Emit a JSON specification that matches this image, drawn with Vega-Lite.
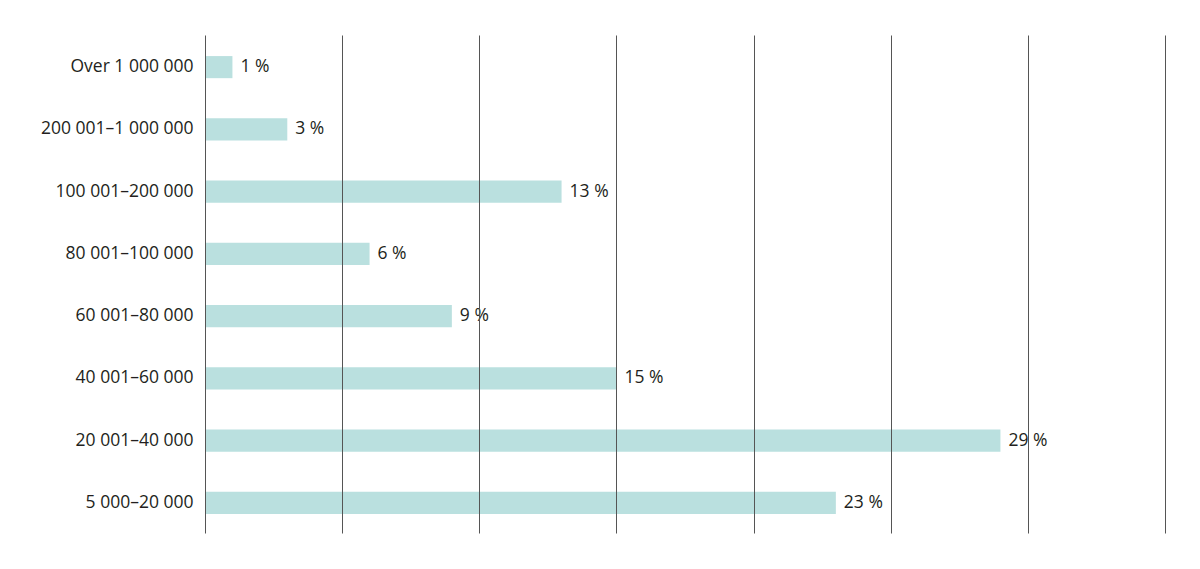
{
  "$schema": "https://vega.github.io/schema/vega-lite/v6.json",
  "width": 960,
  "height": 498,
  "autosize": "none",
  "padding": {"left": 205, "top": 35, "right": 35, "bottom": 36},
  "background": "white",
  "config": {
    "view": {"stroke": null},
    "font": "Open Sans"
  },
  "data": {
    "values": [
      {"group": "Over 1 000 000", "share": 1, "label": "1 %"},
      {"group": "200 001–1 000 000", "share": 3, "label": "3 %"},
      {"group": "100 001–200 000", "share": 13, "label": "13 %"},
      {"group": "80 001–100 000", "share": 6, "label": "6 %"},
      {"group": "60 001–80 000", "share": 9, "label": "9 %"},
      {"group": "40 001–60 000", "share": 15, "label": "15 %"},
      {"group": "20 001–40 000", "share": 29, "label": "29 %"},
      {"group": "5 000–20 000", "share": 23, "label": "23 %"}
    ]
  },
  "encoding": {
    "y": {
      "field": "group",
      "type": "nominal",
      "sort": null,
      "title": null,
      "scale": {"paddingInner": 0.645, "paddingOuter": 0.3225},
      "axis": {
        "domain": false,
        "ticks": false,
        "labelPadding": 12,
        "labelFontSize": 17.5,
        "labelColor": "#231f20",
        "labelFont": "Open Sans",
        "labelOffset": 1
      }
    }
  },
  "layer": [
    {
      "mark": {"type": "bar", "color": "#bae0df", "yOffset": 1},
      "encoding": {
        "x": {
          "field": "share",
          "type": "quantitative",
          "title": null,
          "scale": {"domain": [0, 35], "nice": false},
          "axis": {
            "values": [0, 5, 10, 15, 20, 25, 30, 35],
            "labels": false,
            "ticks": false,
            "domain": false,
            "grid": true,
            "gridColor": "#555555",
            "gridWidth": 1,
            "gridOpacity": 1,
            "zindex": 1
          }
        }
      }
    },
    {
      "mark": {"type": "text", "align": "left", "dx": 8, "dy": 1, "fontSize": 17.5, "color": "#231f20", "font": "Open Sans"},
      "encoding": {
        "x": {"field": "share", "type": "quantitative"},
        "text": {"field": "label"}
      }
    }
  ]
}
